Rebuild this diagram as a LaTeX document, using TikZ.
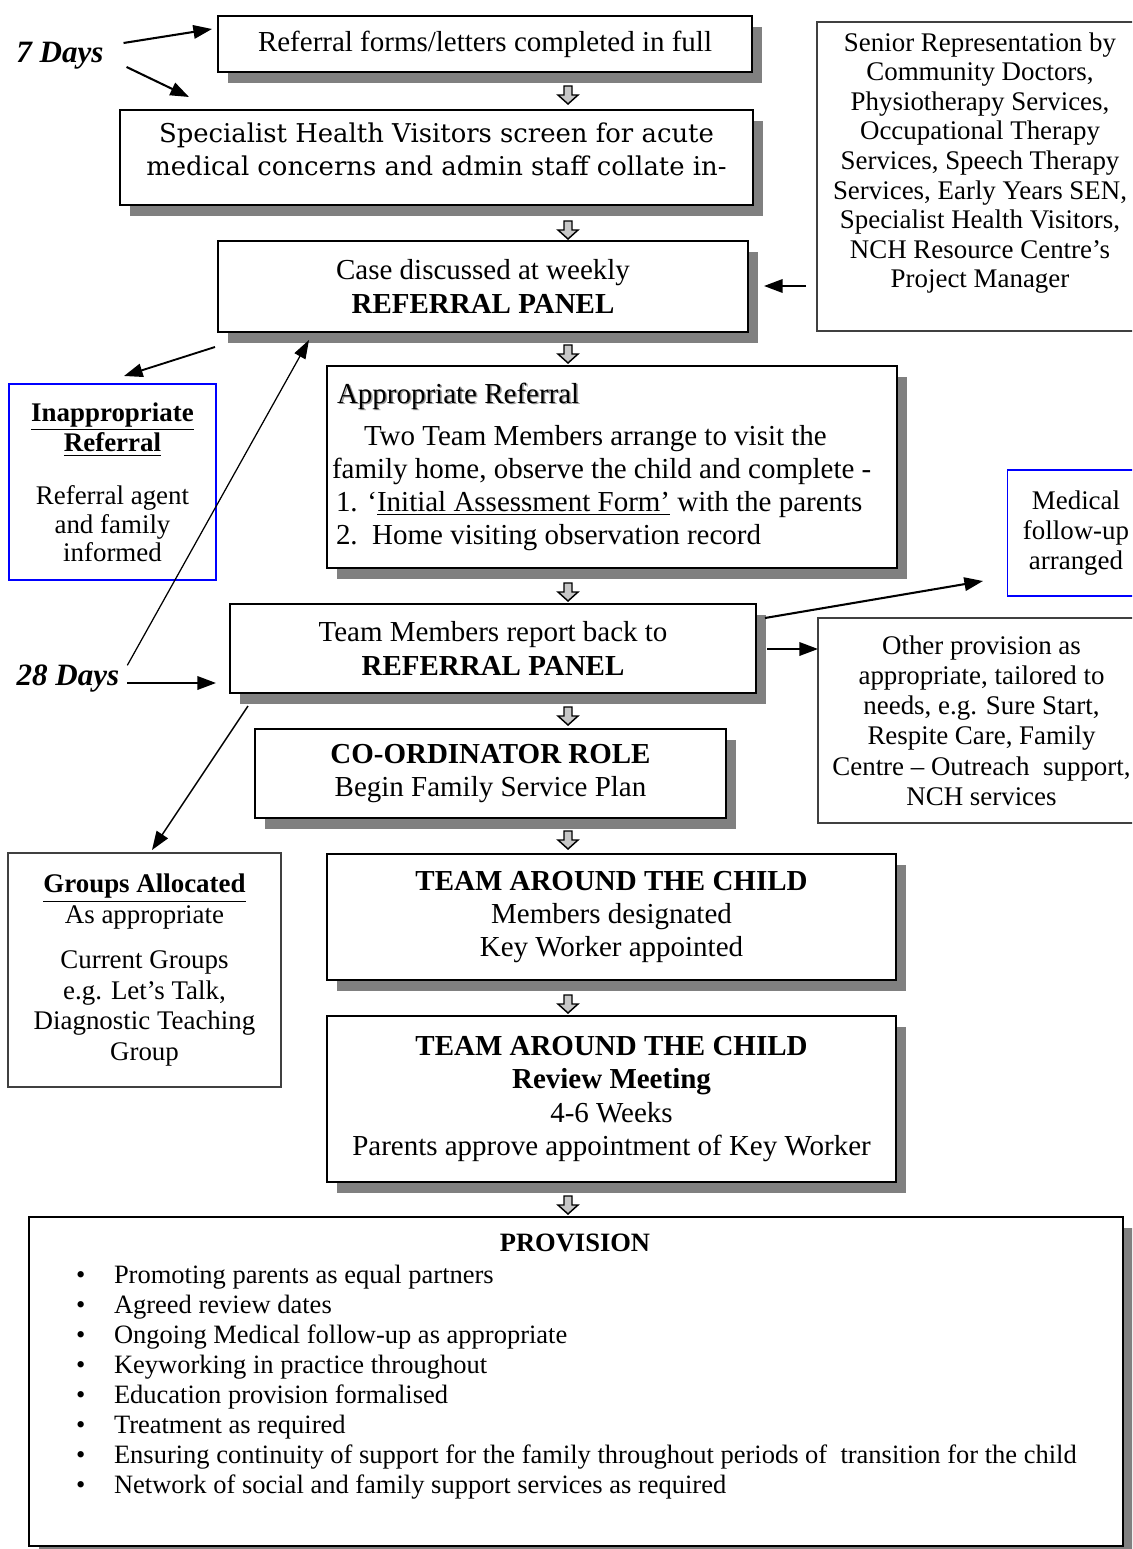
\documentclass[tikz,border=0pt]{standalone}
\usepackage{fontspec}
\setmainfont{Liberation Serif}
\newfontfamily\slabfont{DejaVu Serif}
\usetikzlibrary{arrows.meta,shadows,calc}

\begin{document}
\begin{tikzpicture}[x=0.483pt,y=-0.483pt,
  every node/.style={inner sep=0pt, outer sep=0pt},
  mainbox/.style={draw, line width=1.4pt, fill=white, align=center,
    drop shadow={shadow xshift=4.8pt, shadow yshift=-5.4pt, fill=black!50, opacity=1},
    font=\fontsize{14}{16}\selectfont},
  sidebox/.style={draw=black!75, line width=0.5pt, fill=white, align=center,
    font=\fontsize{13}{14.3}\selectfont},
  sidetext/.style={align=center, font=\fontsize{13}{14.3}\selectfont},
  bluebox/.style={sidebox, draw=blue},
  boxsize/.style 2 args={minimum width={#1*0.483pt}, minimum height={#2*0.483pt}},
  days/.style={font=\fontsize{15}{18}\selectfont\bfseries\itshape},
  arr/.style={line width=1pt, -{Triangle[length=9pt,width=6.5pt]}},
  thinarr/.style={line width=0.6pt, -{Triangle[length=9pt,width=6pt]}},
  line14/.style={anchor=base west, font=\fontsize{14}{16}\selectfont},
  item12/.style={anchor=base west, font=\fontsize{12.8}{14}\selectfont},
  blockdown/.pic={\draw[line width=0.7pt, fill=black!22, line join=miter]
     (-4,-9) -- (4,-9) -- (4,0) -- (10,0) -- (0,9) -- (-10,0) -- (-4,0) -- cycle;}
]
\fill[white] (0,0) rectangle (1132,1549);
\clip (0,0) rectangle (1132,1549);

% ---- main column -------------------------------------------------------
\node[days] (d7) at (60,56) {7 Days};
\node[mainbox, boxsize={534}{56}] (b1) at (485,44) {Referral forms/letters completed in full};
\node[mainbox, boxsize={633}{95}] (b2) at (436.5,157.5) {};
\node[align=center, font=\slabfont\fontsize{12.5}{16}\selectfont] (b2t) at (436.5,149)
  {Specialist Health Visitors screen for acute\\medical concerns and admin staff collate in-};
\node[mainbox, boxsize={530}{91}] (b3) at (483,286.5) {Case discussed at weekly\\\textbf{REFERRAL PANEL}};

\node[mainbox, boxsize={570}{202}] (b4) at (612,467) {};
\node[line14, text=black!40] (t4s) at (338.5,405) {Appropriate Referral};
\node[line14] (t4a) at (337,404) {Appropriate Referral};
\node[line14] (t4b) at (364,445) {Two Team Members arrange to visit the};
\node[line14] (t4c) at (332,478) {family home, observe the child and complete -};
\node[line14] (t4d) at (336,511) {1. ‘\underline{Initial Assessment Form’} with the parents};
\node[line14] (t4e) at (336,544) {2.\ \ Home visiting observation record};

\node[mainbox, boxsize={526}{89}] (b5) at (493,648.5) {Team Members report back to\\\textbf{REFERRAL PANEL}};
\node[days] (d28) at (68,679) {28 Days};
\node[mainbox, boxsize={471}{89}] (b6) at (490.5,773.5) {\textbf{CO-ORDINATOR ROLE}\\Begin Family Service Plan};
\node[mainbox, boxsize={569}{126}] (b7) at (611.5,917) {\textbf{TEAM AROUND THE CHILD}\\Members designated\\Key Worker appointed};
\node[mainbox, boxsize={569}{166}] (b8) at (611.5,1099) {\textbf{TEAM AROUND THE CHILD}\\\textbf{Review Meeting}\\4-6 Weeks\\Parents approve appointment of Key Worker};

\node[mainbox, boxsize={1094}{329}] (b9) at (576,1381.5) {};
\node[font=\fontsize{12.8}{14}\selectfont\bfseries] (pv) at (575,1243) {PROVISION};
\foreach \t [count=\i] in {Promoting parents as equal partners,
    Agreed review dates,
    Ongoing Medical follow-up as appropriate,
    Keyworking in practice throughout,
    Education provision formalised,
    Treatment as required,
    Ensuring continuity of support for the family throughout periods of\ \ transition for the child,
    Network of social and family support services as required}{
  \node[item12] (pb\i) at (76,1253+30*\i) {\textbullet};
  \node[item12] (pi\i) at (114,1253+30*\i) {\t};
}

% ---- side boxes --------------------------------------------------------
\node[sidebox, boxsize={328}{309}] (rb) at (981,176.5) {};
\node[sidetext] (rbt) at (980,163) {Senior Representation by\\Community Doctors,\\Physiotherapy Services,\\Occupational Therapy\\Services, Speech Therapy\\Services, Early Years SEN,\\Specialist Health Visitors,\\NCH Resource Centre’s\\Project Manager};

\node[bluebox, boxsize={207}{196}, font=\fontsize{13}{13.6}\selectfont] (ia) at (112.5,482)
  {\textbf{\underline{Inappropriate}}\\\textbf{\underline{Referral}}\\[12pt]Referral agent\\and family\\informed};

\node[bluebox, boxsize={138}{126}] (md) at (1076,533) {Medical\\follow-up\\arranged};

\node[sidebox, boxsize={327}{205}, font=\fontsize{13}{14.6}\selectfont] (ot) at (981.5,720.5)
  {Other provision as\\appropriate, tailored to\\needs, e.g. Sure Start,\\Respite Care, Family\\Centre – Outreach\ \ support,\\NCH services};

\node[sidebox, boxsize={273}{234}, font=\fontsize{13}{14.8}\selectfont] (gr) at (144.5,970)
  {\textbf{\underline{Groups Allocated}}\\As appropriate\\[7pt]Current Groups\\e.g. Let’s Talk,\\Diagnostic Teaching\\Group};

% ---- block arrows down the main column ---------------------------------
\foreach \y [count=\i] in {95,230,354,592,716,840,1004,1205}
  \pic (da\i) at (568,\y) {blockdown};

% ---- connectors ----------------------------------------------------------
\coordinate (s7a) at ($(d7.east)+(20,-13)$);
\coordinate (s7b) at ($(d7.east)+(23,11)$);
\draw[arr] (s7a) -- ($(b1.north west)+(-6,13)$);
\draw[arr] (s7b) -- ($(b2.north west)+(69,-13)$);
\draw[arr] ($(rb.west)+(-11,109.5)$) -- ($(b3.east)+(16,-0.5)$);
\draw[line width=0.9pt, -{Triangle[length=9pt,width=6.5pt]}] ($(b3.south west)+(-3,15)$) -- ($(ia.north)+(11.5,-8)$);
\draw[thinarr] ($(d28.north east)+(8,0)$) -- ($(b3.south west)+(91,8)$);
\draw[arr] ($(d28.east)+(8,4)$) -- ($(b5.west)+(-14,34.5)$);
\draw[arr] ($(b5.north east)+(9,14)$) -- ($(md.south west)+(-24,-15)$);
\draw[arr] ($(b5.east)+(11,0.5)$) -- (ot.west |- 0,649);
\draw[line width=0.7pt, -{Triangle[length=9pt,width=6.5pt]}] ($(b5.south west)+(18,13)$) -- ($(gr.north)+(7.5,-3)$);
\end{tikzpicture}
\end{document}
